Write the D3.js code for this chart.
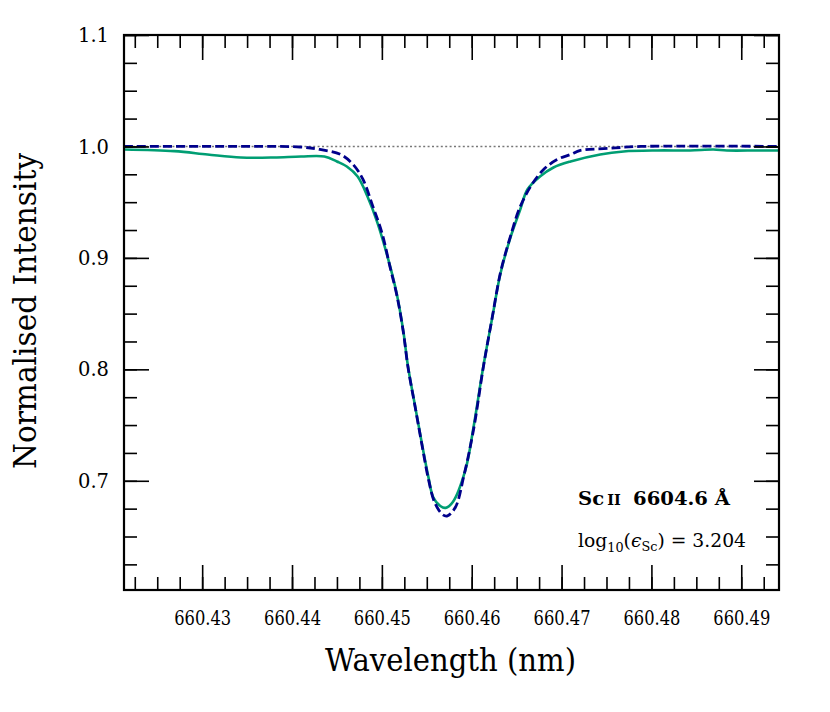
<!DOCTYPE html>
<html>
<head>
<meta charset="utf-8">
<script src="https://cdn.jsdelivr.net/npm/d3@7"></script>
<style>
  html, body { margin: 0; padding: 0; background: #fff; }
  text { font-family: "DejaVu Serif", serif; fill: #000; }
</style>
</head>
<body>
<svg id="chart" width="830" height="712"></svg>
<script>
// ---- data ----
const modelWavelength = [660.4213, 660.4298, 660.4365, 660.4409, 660.4431, 660.4454, 660.4468, 660.4479,
  660.4490, 660.4500, 660.4509, 660.4517, 660.4524, 660.4529, 660.4537, 660.4545, 660.4552, 660.4559,
  660.4568, 660.4573, 660.4582, 660.4591, 660.4602, 660.4613, 660.4623, 660.4632, 660.4643, 660.4654,
  660.4667, 660.4680, 660.4695, 660.4710, 660.4721, 660.4751, 660.4788, 660.4942];
const modelIntensity = [1.000, 1.000, 1.000, 0.9995, 0.9973, 0.9928, 0.9838, 0.9704,
  0.9461, 0.9227, 0.8922, 0.8652, 0.8329, 0.8023, 0.7664, 0.7305, 0.7008, 0.6801,
  0.6694, 0.6685, 0.6765, 0.7035, 0.7457, 0.8023, 0.8473, 0.8868, 0.9191, 0.9461,
  0.9659, 0.9793, 0.9883, 0.9928, 0.9964, 0.9982, 1.000, 1.000];

const obsWavelength = [660.4213, 660.4269, 660.4306, 660.4343, 660.4380, 660.4410, 660.4436, 660.4450,
  660.4461, 660.4473, 660.4484, 660.4495, 660.4509, 660.4517, 660.4524, 660.4529, 660.4537, 660.4545,
  660.4552, 660.4557, 660.4565, 660.4571, 660.4579, 660.4593, 660.4602, 660.4613, 660.4623, 660.4632,
  660.4643, 660.4654, 660.4662, 660.4676, 660.4691, 660.4710, 660.4743, 660.4769, 660.4807, 660.4843,
  660.4869, 660.4884, 660.4918, 660.4942];
const obsIntensity = [0.9973, 0.9958, 0.9928, 0.9901, 0.9901, 0.9910, 0.9910, 0.9865,
  0.9820, 0.9730, 0.9551, 0.9317, 0.8930, 0.8660, 0.8335, 0.8030, 0.7670, 0.7315,
  0.7026, 0.6855, 0.6774, 0.6757, 0.6810, 0.7098, 0.7480, 0.8030, 0.8470, 0.8860,
  0.9180, 0.9434, 0.9614, 0.9730, 0.9811, 0.9865, 0.9928, 0.9955, 0.9964, 0.9964,
  0.9973, 0.9964, 0.9964, 0.9964];

const continuum = 1.0;
const xDomain = [660.4213, 660.4942];
const yDomain = [0.602, 1.1];
const xMajorTicks = [660.43, 660.44, 660.45, 660.46, 660.47, 660.48, 660.49];
const xTickLabels = ["660.43", "660.44", "660.45", "660.46", "660.47", "660.48", "660.49"];
const yMajorTicks = [0.7, 0.8, 0.9, 1.0, 1.1];
const yTickLabels = ["0.7", "0.8", "0.9", "1.0", "1.1"];
const xMinorStep = 0.0025;
const yMinorStep = 0.025;

// ---- layout ----
const margin = { left: 124, top: 35, right: 51, bottom: 122 };
const W = 830, H = 712;
const iw = W - margin.left - margin.right;   // 655
const ih = H - margin.top - margin.bottom;   // 555

const svg = d3.select("#chart");
const g = svg.append("g").attr("transform", `translate(${margin.left},${margin.top})`);

const x = d3.scaleLinear().domain(xDomain).range([0, iw]);
const y = d3.scaleLinear().domain(yDomain).range([ih, 0]);

const xMinor = d3.range(Math.ceil(xDomain[0] / xMinorStep), Math.floor(xDomain[1] / xMinorStep) + 1)
  .map(i => +(i * xMinorStep).toFixed(4));
const yMinor = d3.range(Math.ceil(yDomain[0] / yMinorStep - 1e-6), Math.floor(yDomain[1] / yMinorStep + 1e-6) + 1)
  .map(i => +(i * yMinorStep).toFixed(3));

g.append("clipPath").attr("id", "clip").append("rect").attr("width", iw).attr("height", ih);
const plot = g.append("g").attr("clip-path", "url(#clip)");

// continuum reference line
plot.append("line")
  .attr("x1", 0).attr("x2", iw)
  .attr("y1", y(continuum)).attr("y2", y(continuum))
  .attr("stroke", "#777").attr("stroke-width", 1.4)
  .attr("stroke-dasharray", "2,2.4");

const line = d3.line().curve(d3.curveCatmullRom.alpha(0.5));

plot.append("path")
  .datum(obsWavelength.map((w, i) => [x(w), y(obsIntensity[i])]))
  .attr("d", line)
  .attr("fill", "none").attr("stroke", "#009E73").attr("stroke-width", 2.6);

plot.append("path")
  .datum(modelWavelength.map((w, i) => [x(w), y(modelIntensity[i])]))
  .attr("d", line)
  .attr("fill", "none").attr("stroke", "#00008B").attr("stroke-width", 2.8)
  .attr("stroke-dasharray", "9,4");

// ---- axes (ticks inward on all four sides) ----
const majorLen = 25, minorLen = 13;
function axisGroup(axis, transform) {
  const a = g.append("g").attr("transform", transform).call(axis);
  a.attr("font-family", null);
  a.select(".domain").remove();
  a.selectAll("line").attr("stroke", "#000").attr("stroke-width", 1.6);
  return a;
}
// bottom
axisGroup(d3.axisTop(x).tickValues(xMinor).tickSize(minorLen).tickFormat(""), `translate(0,${ih})`);
const xb = axisGroup(d3.axisTop(x).tickValues(xMajorTicks).tickSize(majorLen)
  .tickFormat((d, i) => xTickLabels[i]), `translate(0,${ih})`);
xb.selectAll("text").attr("y", 20).attr("dy", "0.72em")
  .attr("textLength", 57).attr("lengthAdjust", "spacingAndGlyphs")
  .style("font-size", "20.5px");
// top
axisGroup(d3.axisBottom(x).tickValues(xMinor).tickSize(minorLen).tickFormat(""), "translate(0,0)");
axisGroup(d3.axisBottom(x).tickValues(xMajorTicks).tickSize(majorLen).tickFormat(""), "translate(0,0)");
// left
axisGroup(d3.axisRight(y).tickValues(yMinor).tickSize(minorLen).tickFormat(""), "translate(0,0)");
const yl = axisGroup(d3.axisRight(y).tickValues(yMajorTicks).tickSize(majorLen)
  .tickFormat((d, i) => yTickLabels[i]), "translate(0,0)");
yl.selectAll("text").attr("x", -15).attr("text-anchor", "end")
  .attr("textLength", 31).attr("lengthAdjust", "spacingAndGlyphs")
  .style("font-size", "20.5px");
// right
axisGroup(d3.axisLeft(y).tickValues(yMinor).tickSize(minorLen).tickFormat(""), `translate(${iw},0)`);
axisGroup(d3.axisLeft(y).tickValues(yMajorTicks).tickSize(majorLen).tickFormat(""), `translate(${iw},0)`);

// frame
g.append("rect").attr("width", iw).attr("height", ih)
  .attr("fill", "none").attr("stroke", "#000").attr("stroke-width", 2.2);

// ---- axis titles ----
svg.append("text")
  .attr("x", margin.left + iw / 2 - 1).attr("y", 671)
  .attr("text-anchor", "middle")
  .attr("textLength", 251).attr("lengthAdjust", "spacingAndGlyphs")
  .style("font-size", "32px")
  .text("Wavelength (nm)");

svg.append("text")
  .attr("transform", `translate(36,${311}) rotate(-90)`)
  .attr("text-anchor", "middle")
  .attr("textLength", 316).attr("lengthAdjust", "spacingAndGlyphs")
  .style("font-size", "32px")
  .text("Normalised Intensity");

// ---- annotation ----
const ann1 = svg.append("text").attr("x", 578).attr("y", 505)
  .attr("textLength", 152).attr("lengthAdjust", "spacingAndGlyphs")
  .style("font-size", "19px").style("font-weight", "bold");
ann1.append("tspan").text("Sc");
ann1.append("tspan").attr("dx", 3).style("font-size", "14px").text("II");
ann1.append("tspan").attr("dx", 12).text("6604.6 Å");

const ann2 = svg.append("text").attr("x", 578).attr("y", 547)
  .attr("textLength", 168).attr("lengthAdjust", "spacingAndGlyphs")
  .style("font-size", "19px");
ann2.append("tspan").text("log");
ann2.append("tspan").attr("dy", 5).style("font-size", "13px").text("10");
ann2.append("tspan").attr("dy", -5).text("(");
ann2.append("tspan").style("font-style", "italic").text("ϵ");
ann2.append("tspan").attr("dy", 4).style("font-size", "13px").text("Sc");
ann2.append("tspan").attr("dy", -4).text(") = 3.204");
</script>
</body>
</html>
